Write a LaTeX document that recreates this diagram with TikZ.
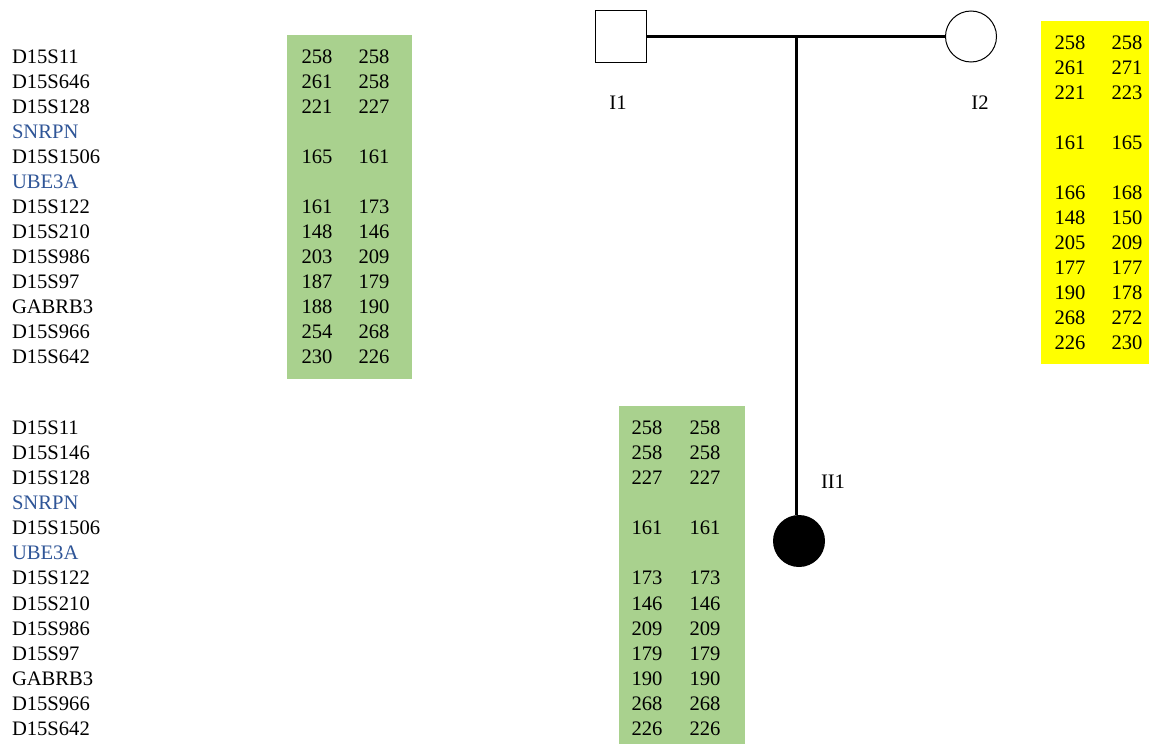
\documentclass[tikz,border=0pt]{standalone}
\usepackage{fontspec}
\setmainfont{Liberation Serif}
\definecolor{boxgreen}{HTML}{A9D18E}
\definecolor{genblue}{HTML}{2F5597}
\definecolor{boxyellow}{HTML}{FFFF00}
\begin{document}
\begin{tikzpicture}[x=0.5pt,y=-0.5pt,
  every node/.style={inner sep=0pt,outer sep=0pt,font=\fontsize{10.3}{12}\selectfont},
  lbl/.style={anchor=base west,text=black},
  gene/.style={anchor=base west,text=genblue},
  num/.style={anchor=base,text=black},
  pedline/.style={line width=1.9pt,black},
  person/.style={draw=black,line width=0.5pt,fill=white}]
\useasboundingbox (0,0) rectangle (1149,744);
% boxes
\fill[boxgreen] (287,35) rectangle (412,379);
\fill[boxgreen] (619,406) rectangle (745,744);
\fill[boxyellow] (1041,21) rectangle (1149,364);
% top-left labels
\foreach \t/\s [count=\i from 0] in {D15S11/lbl,D15S646/lbl,D15S128/lbl,SNRPN/gene,D15S1506/lbl,UBE3A/gene,D15S122/lbl,D15S210/lbl,D15S986/lbl,D15S97/lbl,GABRB3/lbl,D15S966/lbl,D15S642/lbl}
  \node[\s] (tl\i) at (12,{56.7+25*\i+7}) {\t};
% bottom-left labels
\foreach \t/\s [count=\i from 0] in {D15S11/lbl,D15S146/lbl,D15S128/lbl,SNRPN/gene,D15S1506/lbl,UBE3A/gene,D15S122/lbl,D15S210/lbl,D15S986/lbl,D15S97/lbl,GABRB3/lbl,D15S966/lbl,D15S642/lbl}
  \node[\s] (bl\i) at (12,{427.5+25.08*\i+7}) {\t};
% top green numbers
\foreach \a/\b/\i in {258/258/0,261/258/1,221/227/2,165/161/4,161/173/6,148/146/7,203/209/8,187/179/9,188/190/10,254/268/11,230/226/12}{
  \node[num] (ga\i) at (317,{56.7+25*\i+7}) {\a};
  \node[num] (gb\i) at (374,{56.7+25*\i+7}) {\b};}
% bottom green numbers
\foreach \a/\b/\i in {258/258/0,258/258/1,227/227/2,161/161/4,173/173/6,146/146/7,209/209/8,179/179/9,190/190/10,268/268/11,226/226/12}{
  \node[num] (ha\i) at (647,{427.5+25.08*\i+7}) {\a};
  \node[num] (hb\i) at (705,{427.5+25.08*\i+7}) {\b};}
% yellow numbers
\foreach \a/\b/\i in {258/258/0,261/271/1,221/223/2,161/165/4,166/168/6,148/150/7,205/209/8,177/177/9,190/178/10,268/272/11,226/230/12}{
  \node[num] (ya\i) at (1070,{42+25*\i+7}) {\a};
  \node[num] (yb\i) at (1127,{42+25*\i+7}) {\b};}
% pedigree
\node[person,rectangle,minimum width=25.5pt,minimum height=26pt] (I1) at (621,36.5) {};
\node[person,circle,minimum size=25.5pt] (I2) at (971,36.5) {};
\node[circle,fill=black,minimum size=26pt] (II1) at (799,541) {};
\node[anchor=base] (lI1) at (618,109) {I1};
\node[anchor=base] (lI2) at (980,109) {I2};
\node[anchor=base] (lII1) at (833,488.5) {II1};
\draw[pedline] (I1.east) -- (I2.west);
\coordinate (mid) at (796.5,36.5);
\draw[pedline] (mid) -- (mid |- II1.north);
\end{tikzpicture}
\end{document}
